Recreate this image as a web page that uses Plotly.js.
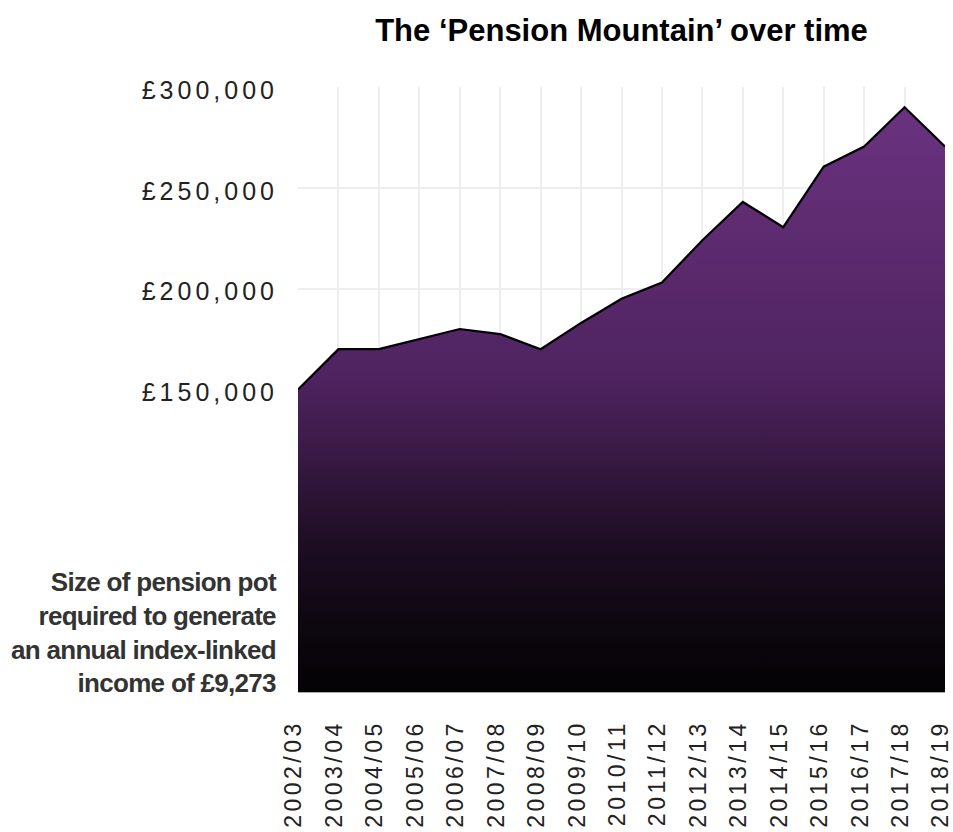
<!DOCTYPE html>
<html>
<head>
<meta charset="utf-8">
<script src="https://cdn.plot.ly/plotly-3.0.1.min.js"></script>
<style>
  html, body { margin: 0; padding: 0; background: #fff; }
  #chart { width: 953px; height: 832px; }
  .xtick text { letter-spacing: 3.5px; }
  .ytick text { letter-spacing: 4px; }
  .annotation-text { letter-spacing: -0.7px; }
</style>
</head>
<body>
<div id="chart"></div>
<script>
const years = ["2002/03","2003/04","2004/05","2005/06","2006/07","2007/08","2008/09","2009/10",
               "2010/11","2011/12","2012/13","2013/14","2014/15","2015/16","2016/17","2017/18","2018/19"];
const potSize = [150000,170000,170000,175000,180000,177500,170000,183000,
                 195000,203000,224000,243000,230500,260500,270500,290000,270500];
const yTickVals = [150000,200000,250000,300000];
const yTickText = ["£150,000","£200,000","£250,000","£300,000"];
const titleText = "The ‘Pension Mountain’ over time";
const noteText = "Size of pension pot<br>required to generate<br>an annual index-linked<br>income of £9,273";

const trace = {
  type: "scatter",
  mode: "lines",
  x: years,
  y: potSize,
  fill: "tozeroy",
  line: { color: "#000000", width: 2.2 },
  fillgradient: {
    type: "vertical",
    start: 0,
    stop: 300000,
    colorscale: [
      [0.0, "#040204"],
      [0.12, "#0e0710"],
      [0.25, "#1e0e24"],
      [0.40, "#3a1a46"],
      [0.52, "#4f2360"],
      [0.90, "#66307a"],
      [1.0, "#6c3382"]
    ]
  },
  hoverinfo: "x+y"
};

const layout = {
  width: 953,
  height: 832,
  margin: { l: 298, r: 8, t: 87, b: 140 },
  paper_bgcolor: "#ffffff",
  plot_bgcolor: "#ffffff",
  showlegend: false,
  title: {
    text: titleText,
    font: { family: "Liberation Sans, Arial, sans-serif", size: 31, color: "#000000", weight: "bold" },
    x: 0.5, xref: "paper", xanchor: "center",
    y: 1 - 30 / 832, yref: "container", yanchor: "middle"
  },
  xaxis: {
    type: "category",
    range: [0, 16],
    tickangle: -90,
    ticks: "",
    ticklabelstandoff: 18,
    ticklabelshift: -4,
    showgrid: true,
    gridcolor: "#eeeeee",
    gridwidth: 2,
    showline: true,
    linecolor: "#aaaaaa",
    linewidth: 1,
    zeroline: false,
    tickfont: { family: "Liberation Sans, Arial, sans-serif", size: 23, color: "#222222" },
    fixedrange: true
  },
  yaxis: {
    range: [0, 300000],
    tickmode: "array",
    tickvals: yTickVals,
    ticktext: yTickText,
    ticks: "",
    ticklabelstandoff: 19,
    ticklabelshift: 3,
    showgrid: true,
    gridcolor: "#eeeeee",
    gridwidth: 2,
    zeroline: false,
    showline: false,
    tickfont: { family: "Liberation Sans, Arial, sans-serif", size: 25, color: "#222222" },
    fixedrange: true
  },
  annotations: [{
    text: noteText,
    xref: "paper", yref: "paper",
    x: -0.029, y: 0,
    xanchor: "right", yanchor: "bottom",
    yshift: -8,
    align: "right",
    showarrow: false,
    font: { family: "Liberation Sans, Arial, sans-serif", size: 26, color: "#333333", weight: "bold" }
  }]
};

Plotly.newPlot("chart", [trace], layout, { displayModeBar: false, responsive: false });
</script>
</body>
</html>
